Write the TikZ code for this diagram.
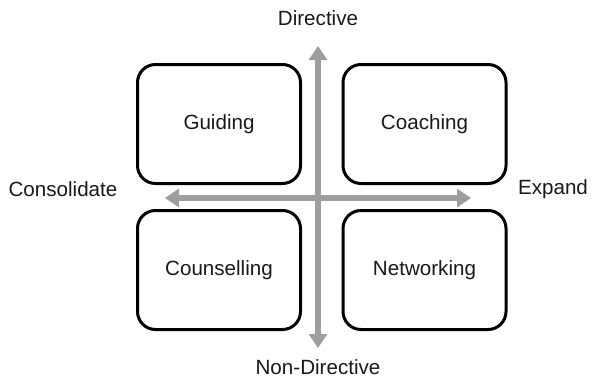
\documentclass[tikz,border=0pt]{standalone}
\usepackage{fontspec}
\setmainfont{Liberation Sans}
\usetikzlibrary{arrows.meta}
\begin{document}
\begin{tikzpicture}[x=1pt,y=-1pt,
  quad/.style={draw=black,line width=3pt,rounded corners=18pt,fill=white,
    minimum width=163pt,minimum height=119pt,inner sep=0pt,
    font=\fontsize{20.6}{24}\selectfont,text=black!90},
  lbl/.style={font=\fontsize{20.6}{24}\selectfont,text=black!90,inner sep=0pt},
  axis/.style={draw=black!38,line width=6pt,
    {Triangle[width=18pt,length=14pt]}-{Triangle[width=18pt,length=14pt]}}]
\useasboundingbox (0,0) rectangle (593,380);
% quadrant boxes
\node[quad] (guid) at (219,124) {Guiding};
\node[quad] (coach) at (424.5,124) {Coaching};
\node[quad] (couns) at (219,270) {Counselling};
\node[quad] (net) at (424.5,270) {Networking};
% axis end labels
\node[lbl] (dir) at (318,18) {Directive};
\node[lbl] (nondir) at (318,367) {Non-Directive};
\node[lbl] (cons) at (63,189) {Consolidate};
\node[lbl] (exp) at (553,189) {Expand};
% axes
\coordinate (top) at (318,46);
\coordinate (bot) at (318,348);
\coordinate (lft) at (165,198);
\coordinate (rgt) at (471,198);
\draw[axis] (lft) -- (rgt);
\draw[axis] (top) -- (bot);
\end{tikzpicture}
\end{document}
